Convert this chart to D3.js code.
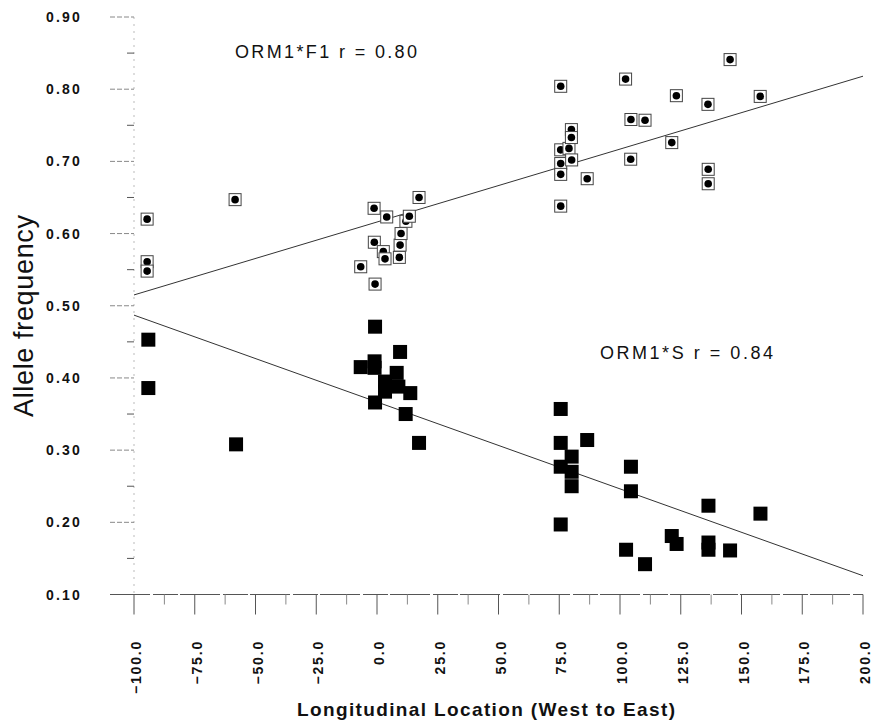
<!DOCTYPE html>
<html><head><meta charset="utf-8">
<script src="https://cdn.jsdelivr.net/npm/d3@7"></script>
<style>
html,body{margin:0;padding:0;background:#fff;}
svg{display:block;}
text{font-family:"Liberation Sans",Arial,Helvetica,sans-serif;fill:#111;}
</style></head>
<body>
<svg id="chart" width="872" height="721"></svg>
<script>
// ---- data ----
const f1X = [-94.6,-94.6,-94.6,-58.4,
  -6.7,-1.2,-1.1,-0.8,2.6,3.3,4.0,9.2,9.5,9.9,11.9,13.3,17.3,
  75.6,75.6,75.6,75.6,75.6,79.0,80.0,80.0,80.1,86.5,102.3,104.4,104.5,110.3,121.3,123.2,136.2,136.3,136.3,145.3,157.7];
const f1Y = [0.620,0.561,0.548,0.647,
  0.554,0.635,0.588,0.530,0.575,0.565,0.623,0.567,0.584,0.600,0.617,0.624,0.650,
  0.804,0.716,0.697,0.682,0.638,0.718,0.744,0.733,0.702,0.676,0.814,0.703,0.758,0.757,0.726,0.791,0.779,0.689,0.669,0.841,0.790];
const sX = [-94.1,-94.1,-58.0,
  -6.7,-1.0,-1.0,-0.8,-0.8,3.3,3.3,8.1,8.8,9.5,11.8,13.7,17.3,
  75.6,75.6,75.6,75.6,80.1,80.1,80.1,86.5,102.5,104.5,104.5,110.3,121.3,123.3,136.4,136.4,136.4,145.3,157.8];
const sY = [0.453,0.386,0.308,
  0.415,0.423,0.414,0.471,0.366,0.395,0.381,0.407,0.388,0.436,0.350,0.379,0.310,
  0.357,0.310,0.277,0.197,0.291,0.270,0.250,0.314,0.162,0.277,0.243,0.142,0.181,0.170,0.223,0.172,0.162,0.161,0.212];
const f1Fit = [[-100,0.515],[200,0.818]];
const sFit = [[-100,0.487],[200,0.126]];
const xTicks = [-100,-75,-50,-25,0,25,50,75,100,125,150,175,200];
const yTicks = [0.1,0.2,0.3,0.4,0.5,0.6,0.7,0.8,0.9];
const f1Label = "ORM1*F1 r = 0.80";
const sLabel = "ORM1*S r = 0.84";
const xTitle = "Longitudinal Location (West to East)";
const yTitle = "Allele frequency";

// ---- scales ----
const svg = d3.select("#chart");
const x = d3.scaleLinear().domain([-100,200]).range([134,863]);
const y = d3.scaleLinear().domain([0.1,0.9]).range([594.5,17]);

// ---- axes ----
const yAxis = svg.append("g").attr("transform","translate(134,0)");
yAxis.append("line").attr("x1",0).attr("x2",0).attr("y1",y(0.9)).attr("y2",y(0.1))
  .attr("stroke","#bbb").attr("stroke-width",1).attr("stroke-dasharray","2,5");
const yMinor = d3.range(0.15,0.9,0.1);
yAxis.selectAll(".ymin").data(yMinor).join("line")
  .attr("x1",-7).attr("x2",0).attr("y1",d=>y(d)).attr("y2",d=>y(d))
  .attr("stroke","#555");
yAxis.selectAll(".ymaj").data(yTicks).join("line")
  .attr("x1",-24).attr("x2",0).attr("y1",d=>y(d)).attr("y2",d=>y(d))
  .attr("stroke","#888").attr("stroke-dasharray","5,2");
svg.selectAll(".ylab").data(yTicks).join("text")
  .attr("x",82).attr("y",d=>y(d)).attr("dy","0.36em")
  .attr("text-anchor","end").attr("font-size",14).attr("font-weight","bold")
  .attr("letter-spacing",2.2)
  .text(d=>d3.format(".2f")(d));

const xAxis = svg.append("g").attr("transform",`translate(0,${y(0.1)})`);
xAxis.append("line").attr("x1",110).attr("x2",x(200)).attr("y1",0).attr("y2",0)
  .attr("stroke","#555").attr("stroke-width",1).attr("stroke-dasharray","40,3,25,2");
const xMinor = d3.range(-87.5,200,25);
xAxis.selectAll(".xmin").data(xMinor).join("line")
  .attr("x1",d=>x(d)).attr("x2",d=>x(d)).attr("y1",0).attr("y2",10)
  .attr("stroke","#888");
xAxis.selectAll(".xmaj").data(xTicks).join("line")
  .attr("x1",d=>x(d)).attr("x2",d=>x(d)).attr("y1",0).attr("y2",20)
  .attr("stroke","#555");
svg.selectAll(".xlab").data(xTicks).join("text")
  .attr("transform",d=>`translate(${x(d)+7},640) rotate(-90)`)
  .attr("text-anchor","end").attr("font-size",14).attr("font-weight","bold")
  .attr("letter-spacing",1.8)
  .text(d=>d3.format(".1f")(d));

// titles
svg.append("text").attr("x",297).attr("y",716)
  .attr("font-size",19).attr("font-weight","bold")
  .attr("textLength",378).attr("lengthAdjust","spacing")
  .text(xTitle);
svg.append("text").attr("transform","translate(33,417) rotate(-90)")
  .attr("font-size",27)
  .attr("textLength",202).attr("lengthAdjust","spacing")
  .text(yTitle);

// annotations
svg.append("text").attr("x",235).attr("y",58).attr("font-size",18)
  .attr("textLength",182).attr("lengthAdjust","spacing").text(f1Label);
svg.append("text").attr("x",600).attr("y",359).attr("font-size",18)
  .attr("textLength",173).attr("lengthAdjust","spacing").text(sLabel);

// ---- fit lines ----
const line = d3.line().x(d=>x(d[0])).y(d=>y(d[1]));
svg.append("path").attr("d",line(f1Fit)).attr("fill","none").attr("stroke","#333").attr("stroke-width",1);
svg.append("path").attr("d",line(sFit)).attr("fill","none").attr("stroke","#333").attr("stroke-width",1);

// ---- S points: filled squares ----
const sData = sX.map((v,i)=>({x:v,y:sY[i]}));
const sq = 14;
svg.selectAll(".s").data(sData).join("rect")
  .attr("x",d=>x(d.x)-sq/2).attr("y",d=>y(d.y)-sq/2)
  .attr("width",sq).attr("height",sq).attr("fill","#000");

// ---- F1 points: dot in open box ----
const fData = f1X.map((v,i)=>({x:v,y:f1Y[i]}));
const bx = 12;
const g = svg.selectAll(".f").data(fData).join("g")
  .attr("transform",d=>`translate(${x(d.x)},${y(d.y)})`);
g.append("rect").attr("x",-bx/2).attr("y",-bx/2).attr("width",bx).attr("height",bx)
  .attr("fill","#fff").attr("stroke","#444").attr("stroke-width",1);
g.append("circle").attr("r",3.8).attr("fill","#000");
</script>
</body></html>
